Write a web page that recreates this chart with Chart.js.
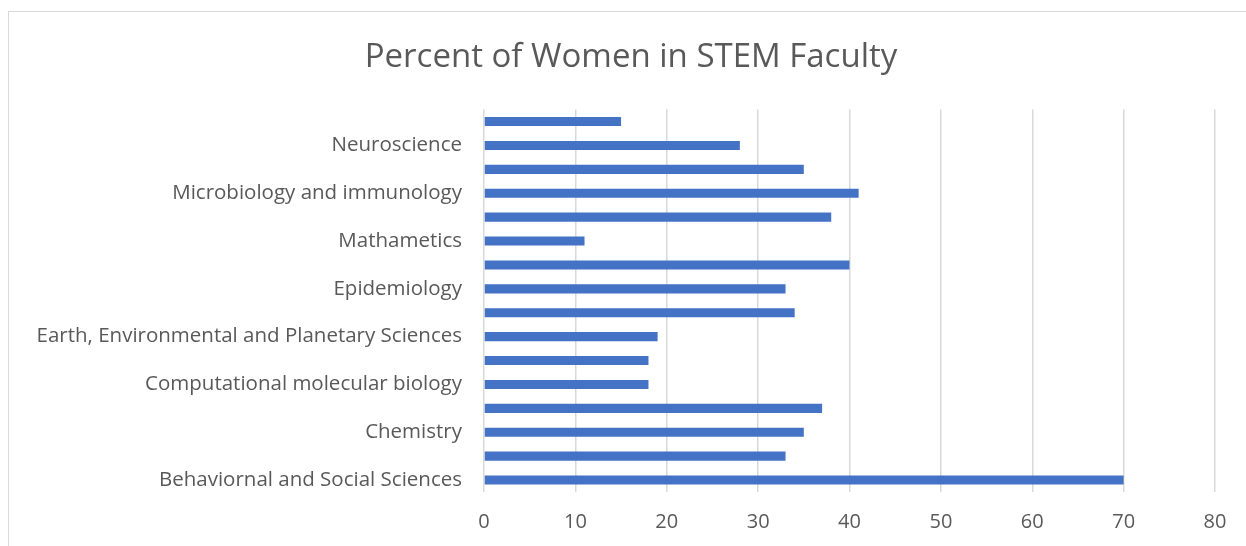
<!DOCTYPE html>
<html>
<head>
<meta charset="utf-8">
<script src="https://cdn.jsdelivr.net/npm/chart.js@4/dist/chart.umd.min.js"></script>
<style>
  html, body { margin: 0; padding: 0; background: #fff; overflow: hidden; }
  #frame { position: absolute; left: 8px; top: 11px; width: 1400px; height: 700px; border: 1px solid #d9d9d9; }
  #wrap { position: absolute; left: 0; top: 0; width: 1246px; height: 546px; }
</style>
</head>
<body>
<div id="frame"></div>
<div id="wrap"><canvas id="chart" width="1246" height="546"></canvas></div>
<script>
// categories bottom to top, as in the sheet; only every other one shows a label
const categories = [
  "Behaviornal and Social Sciences", "Biology",
  "Chemistry", "Cognitive Science",
  "Computational molecular biology", "Computer Science",
  "Earth, Environmental and Planetary Sciences", "Ecology",
  "Epidemiology", "Genetics",
  "Mathametics", "Medicine",
  "Microbiology and immunology", "Molecular Biology",
  "Neuroscience", "Physics"
];
const percentWomen = [70, 33, 35, 37, 18, 18, 19, 34, 33, 40, 11, 38, 41, 35, 28, 15];
const xTicks = [0, 10, 20, 30, 40, 50, 60, 70, 80];

const textColor = "#595959";
const font = "'Open Sans', sans-serif";

// nudge the title a little right, like the original
const titleShift = {
  id: "titleShift",
  afterLayout(chart) {
    if (chart.titleBlock) chart.titleBlock.left += 31;
  }
};

const ctx = document.getElementById('chart').getContext('2d');

new Chart(ctx, {
  type: "bar",
  data: {
    labels: categories,
    datasets: [{
      label: "Percent",
      data: percentWomen,
      backgroundColor: "#4472C4",
      categoryPercentage: 1,
      barPercentage: 0.38
    }]
  },
  options: {
    indexAxis: "y",
    responsive: false,
    animation: false,
    layout: { padding: { left: 16, right: 31, top: 0, bottom: 0 } },
    plugins: {
      legend: { display: false },
      tooltip: { enabled: false },
      title: {
        display: true,
        text: "Percent of Women in STEM Faculty",
        color: textColor,
        font: { family: font, size: 33, weight: "normal" },
        padding: { top: 38, bottom: 32 }
      }
    },
    scales: {
      x: {
        min: 0,
        max: xTicks[xTicks.length - 1],
        afterBuildTicks: s => { s.ticks = xTicks.map(v => ({ value: v })); },
        afterFit: s => { s.height = 54; },
        grid: { color: "#d9d9d9", lineWidth: 1.5, drawTicks: false },
        border: { display: false },
        ticks: { color: textColor, padding: 18, font: { family: font, size: 20 } }
      },
      y: {
        reverse: true,
        afterFit: s => { s.width = 468; },
        grid: { display: false, drawTicks: false },
        border: { display: false },
        ticks: {
          autoSkip: false,
          color: textColor,
          padding: 22,
          font: { family: font, size: 20.5 },
          callback: (v, i) => (i % 2 === 0 ? categories[i] : "")
        }
      }
    }
  },
  plugins: [titleShift]
});
</script>
</body>
</html>
